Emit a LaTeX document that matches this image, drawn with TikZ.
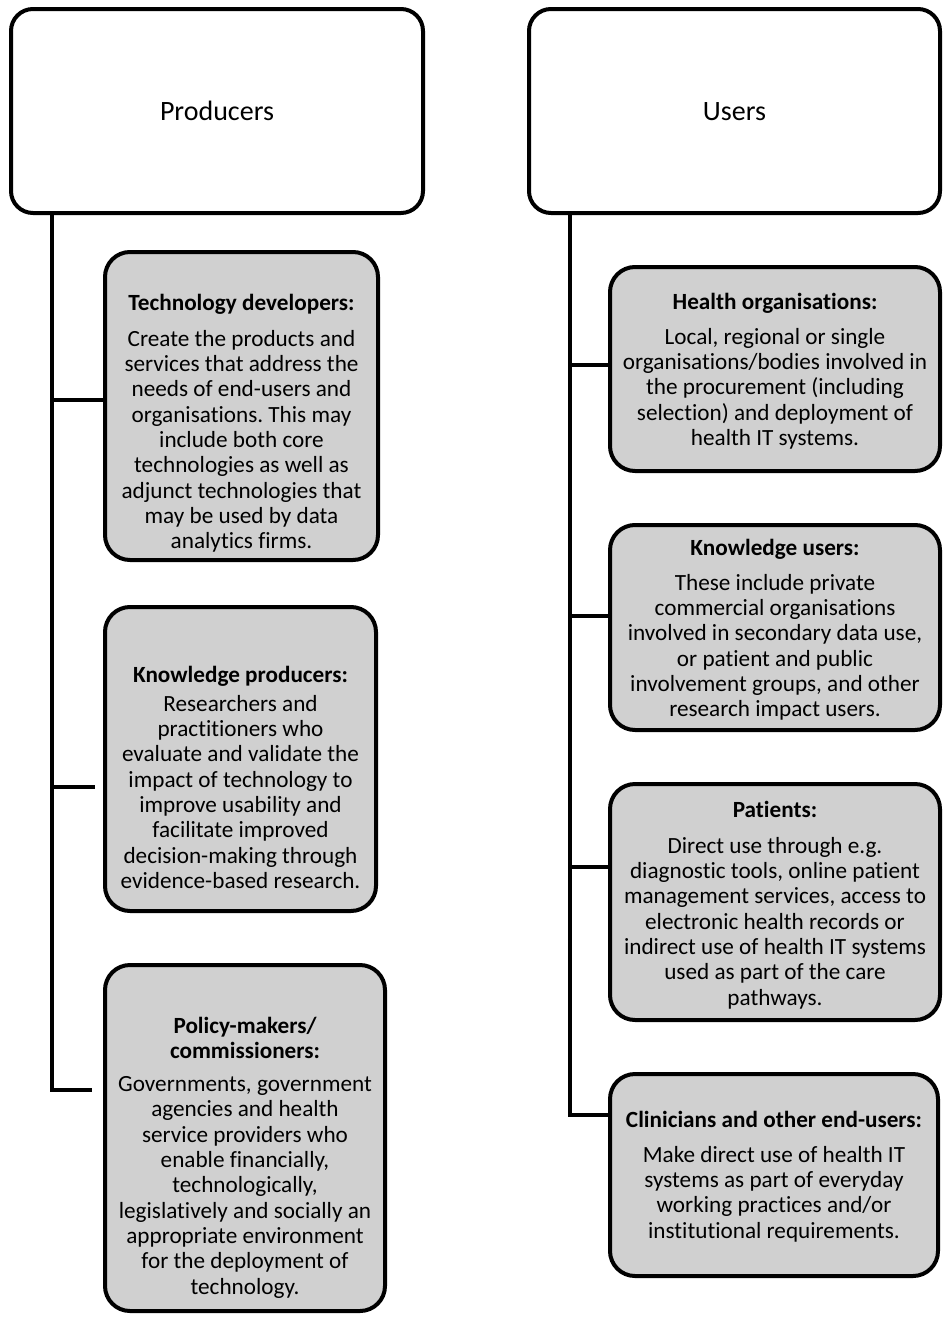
\documentclass[tikz,border=0pt]{standalone}
\usepackage{fontspec}
\setmainfont{Carlito}[Ligatures=NoCommon]
\definecolor{boxgray}{RGB}{208,208,208}
\frenchspacing
\begin{document}
\begin{tikzpicture}[x=1pt,y=-1pt,
  bigbox/.style={draw=black,line width=4pt,rounded corners=22pt,fill=white,inner sep=0pt},
  itembox/.style={draw=black,line width=4pt,rounded corners=25pt,fill=boxgray,inner sep=0pt},
  conn/.style={draw=black,line width=4pt},
  headtxt/.style={anchor=base,inner sep=0pt,font=\fontsize{28}{34}\selectfont},
  bodytxt/.style={anchor=base,inner sep=0pt,font=\fontsize{23.2}{25.3}\selectfont}]
\useasboundingbox (0,0) rectangle (944,1317);
\fill[white] (0,0) rectangle (944,1317);

% header boxes
\node[bigbox,minimum width=412pt,minimum height=204pt] (prod) at (217,111) {};
\node[bigbox,minimum width=411pt,minimum height=204pt] (users) at (734.5,111) {};
\node[headtxt] (prodT) at (217,120) {Producers};
\node[headtxt] (usersT) at (734.5,120) {Users};

% producer item boxes
\node[itembox,minimum width=273pt,minimum height=308pt] (td) at (241.5,406) {};
\node[itembox,minimum width=271pt,minimum height=304pt] (kp) at (240.5,759) {};
\node[itembox,minimum width=280pt,minimum height=346pt] (pol) at (245,1138) {};

% user item boxes
\node[itembox,minimum width=330pt,minimum height=204pt] (ho) at (775,369) {};
\node[itembox,minimum width=330pt,minimum height=205pt] (ku) at (775,627.5) {};
\node[itembox,minimum width=330pt,minimum height=236pt] (pa) at (775,902) {};
\node[itembox,minimum width=328pt,minimum height=202pt] (cl) at (774,1175) {};

% texts
\node[bodytxt] (tdT) at (241.5,310) {\begin{tabular}[t]{@{}c@{}}\bfseries Technology developers:\\[11pt]
Create the products and\\ services that address the\\ needs of end-users and\\ organisations. This may\\ include both core\\ technologies as well as\\ adjunct technologies that\\ may be used by data\\ analytics firms.\end{tabular}};

\node[bodytxt] (kpT) at (240.5,682) {\begin{tabular}[t]{@{}c@{}}\bfseries Knowledge producers:\\[4pt]
Researchers and\\ practitioners who\\ evaluate and validate the\\ impact of technology to\\ improve usability and\\ facilitate improved\\ decision-making through\\ evidence-based research.\end{tabular}};

\node[bodytxt] (polT) at (245,1033) {\begin{tabular}[t]{@{}c@{}}\bfseries Policy-makers/\\ \bfseries commissioners:\\[8pt]
Governments, government\\ agencies and health\\ service providers who\\ enable financially,\\ technologically,\\ legislatively and socially an\\ appropriate environment\\ for the deployment of\\ technology.\end{tabular}};

\node[bodytxt] (hoT) at (775,309) {\begin{tabular}[t]{@{}c@{}}\bfseries Health organisations:\\[10pt]
Local, regional or single\\ organisations/bodies involved in\\ the procurement (including\\ selection) and deployment of\\ health IT systems.\end{tabular}};

\node[bodytxt] (kuT) at (775,555) {\begin{tabular}[t]{@{}c@{}}\bfseries Knowledge users:\\[10pt]
These include private\\ commercial organisations\\ involved in secondary data use,\\ or patient and public\\ involvement groups, and other\\ research impact users.\end{tabular}};

\node[bodytxt] (paT) at (775,817) {\begin{tabular}[t]{@{}c@{}}\bfseries Patients:\\[11pt]
Direct use through e.g.\\ diagnostic tools, online patient\\ management services, access to\\ electronic health records or\\ indirect use of health IT systems\\ used as part of the care\\ pathways.\end{tabular}};

\node[bodytxt] (clT) at (774,1127) {\begin{tabular}[t]{@{}c@{}}\bfseries Clinicians and other end-users:\\[10pt]
Make direct use of health IT\\ systems as part of everyday\\ working practices and/or\\ institutional requirements.\end{tabular}};

% connectors: producers
\coordinate (L1) at (52,400);
\coordinate (L2) at (52,787);
\coordinate (L3) at (52,1090);
\draw[conn] (prod.south -| L1) -- (L3) -- ([xshift=-11pt]L3 -| pol.west);
\draw[conn] (L1) -- (L1 -| td.west);
\draw[conn] (L2) -- ([xshift=-8pt]L2 -| kp.west);

% connectors: users
\coordinate (R1) at (570,365);
\coordinate (R2) at (570,616);
\coordinate (R3) at (570,867);
\coordinate (R4) at (570,1115);
\draw[conn] (users.south -| R1) -- (R4) -- (R4 -| cl.west);
\draw[conn] (R1) -- (R1 -| ho.west);
\draw[conn] (R2) -- (R2 -| ku.west);
\draw[conn] (R3) -- (R3 -| pa.west);
\end{tikzpicture}
\end{document}
